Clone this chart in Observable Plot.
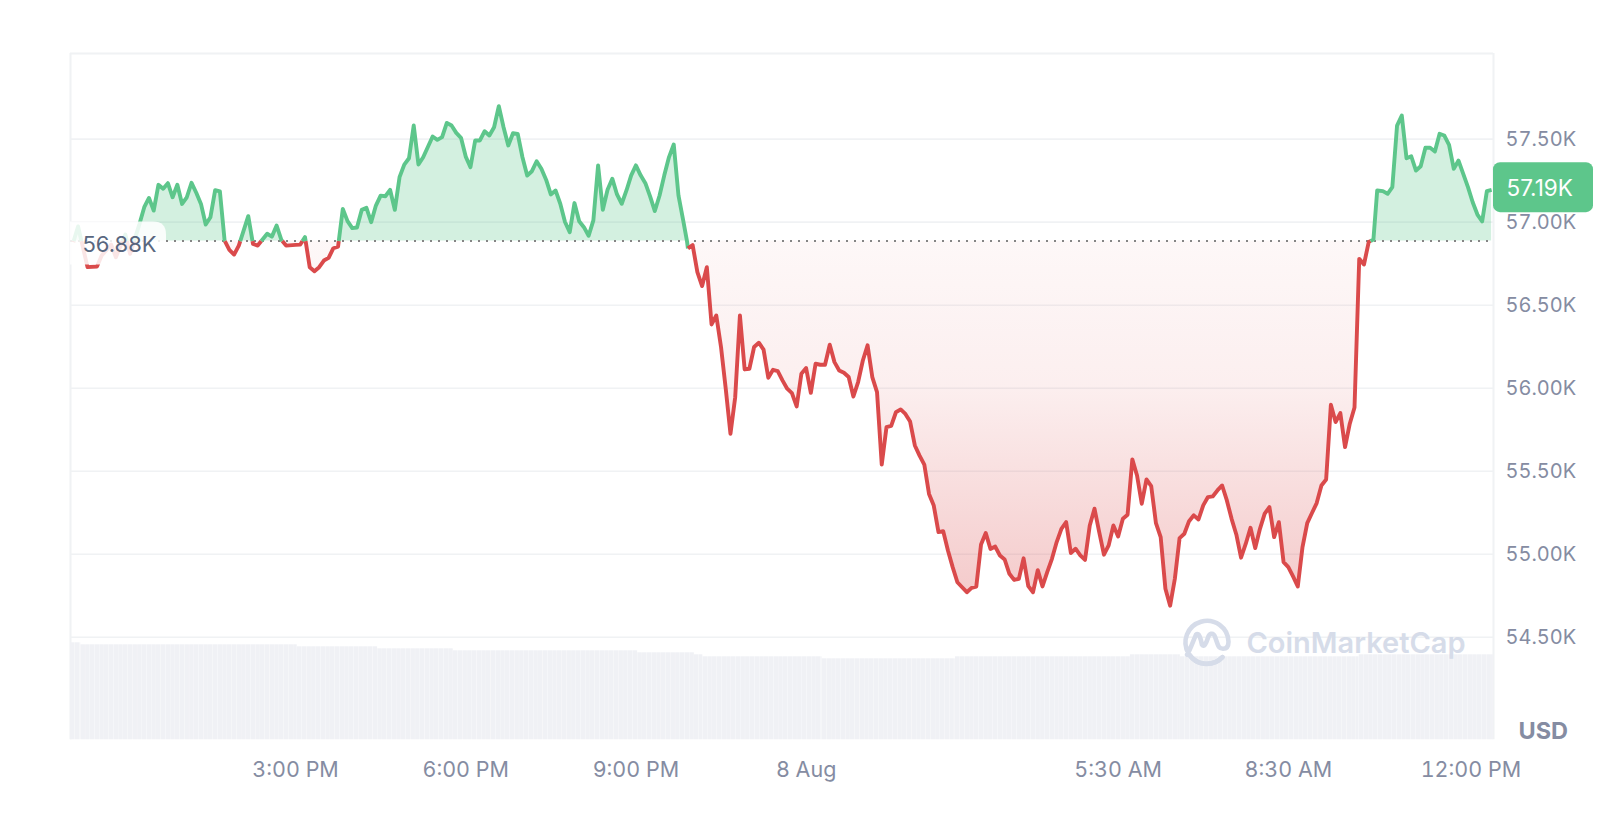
<!DOCTYPE html>
<html>
<head>
<meta charset="utf-8">
<script src="https://cdn.jsdelivr.net/npm/d3@7"></script>
<script src="https://cdn.jsdelivr.net/npm/@observablehq/plot@0.6"></script>
<style>html,body{margin:0;padding:0;background:#fff}svg{display:block}</style>
</head>
<body>
<div id="chart"></div>
<script>
// minutes since 11:00 AM, 7 Aug, on the 5-minute grid, read at each vertex of the line
const minutes = [5,10,20,30,35,45,50,60,65,75,80,85,90,95,100,105,110,115,120,125,130,135,140,145,150,155,160,165,170,175,180,190,195,200,210,215,220,225,230,240,245,250,255,260,265,270,275,280,285,290,295,300,305,310,315,320,325,330,335,340,345,350,355,360,365,370,375,385,390,395,400,405,410,415,420,425,430,435,440,445,450,455,460,465,470,475,480,485,490,495,500,505,510,515,520,525,530,535,540,545,550,555,560,565,570,575,580,585,590,595,600,605,610,615,620,625,630,635,640,645,650,654,655,660,665,670,675,680,685,690,695,700,705,710,715,720,725,730,735,740,745,750,755,760,765,770,775,780,785,790,795,800,805,810,815,820,825,830,835,840,845,850,855,860,865,870,875,880,885,890,895,900,905,910,915,920,925,930,935,940,945,950,955,960,965,970,975,980,985,990,995,1000,1005,1010,1015,1020,1025,1030,1035,1040,1045,1050,1055,1060,1065,1070,1075,1080,1085,1090,1095,1100,1105,1110,1115,1120,1125,1130,1135,1140,1145,1150,1155,1160,1165,1170,1175,1180,1185,1190,1195,1200,1205,1210,1215,1220,1225,1230,1235,1240,1245,1250,1255,1260,1265,1270,1275,1280,1285,1290,1295,1300,1305,1310,1315,1320,1325,1330,1335,1340,1345,1350,1355,1360,1365,1370,1375,1380,1384,1390,1395,1400,1405,1410,1415,1420,1425,1430,1435,1440,1445,1450,1455,1460,1465,1470,1475,1480,1485,1490,1495,1500,1505];
const prices = [56880,56974,56729,56733,56799,56865,56789,56926,56809,56990,57090,57146,57070,57225,57201,57235,57150,57225,57110,57150,57237,57177,57110,56986,57030,57193,57185,56889,56833,56805,56859,57036,56869,56859,56930,56913,56980,56893,56859,56863,56865,56910,56729,56705,56729,56769,56785,56843,56853,57080,57006,56964,56968,57074,57086,57000,57100,57160,57156,57195,57074,57271,57347,57385,57582,57347,57391,57516,57496,57512,57598,57582,57538,57508,57395,57331,57492,57492,57548,57522,57572,57699,57572,57462,57536,57532,57391,57281,57307,57367,57322,57256,57167,57191,57111,57001,56940,57115,57005,56970,56918,57011,57342,57075,57195,57262,57167,57111,57191,57282,57342,57282,57235,57155,57067,57161,57282,57392,57468,57161,57011,56886,56842,56862,56699,56615,56729,56384,56438,56248,55997,55725,55946,56438,56113,56117,56248,56274,56232,56063,56111,56103,56047,55997,55970,55890,56087,56121,55972,56147,56141,56141,56262,56157,56107,56093,56067,55950,56037,56167,56258,56067,55976,55540,55765,55773,55855,55872,55845,55799,55655,55594,55540,55363,55293,55133,55139,55022,54922,54831,54801,54771,54797,54805,55058,55127,55032,55046,54992,54968,54882,54845,54851,54975,54808,54771,54904,54806,54892,54972,55073,55153,55193,55007,55033,54993,54966,55173,55274,55133,54997,55053,55173,55107,55213,55238,55571,55474,55304,55450,55410,55187,55103,54792,54690,54852,55097,55123,55199,55234,55209,55294,55344,55348,55384,55414,55324,55213,55119,54979,55063,55159,55037,55153,55244,55284,55103,55193,54952,54922,54866,54806,55043,55187,55248,55308,55414,55450,55900,55796,55850,55645,55786,55884,56779,56745,56880,56895,57191,57187,57171,57211,57582,57642,57385,57397,57311,57337,57448,57448,57426,57532,57522,57466,57321,57371,57291,57211,57120,57046,57004,57187,57195];

// relative volume: level held from each start minute to the next
const volumeStarts = [2,13,242,327,407,602,662,671,797,938,1123,1176,1322,1365];
const volumeLevels = [97,95,93,91,89,87,85,83,81,83,85,83,83,85];

const yTicks = [54500,55000,55500,56000,56500,57000,57500];
const yTickLabels = ["54.50K","55.00K","55.50K","56.00K","56.50K","57.00K","57.50K"];
const xTickMinutes = [240,420,600,780,1110,1290];
const xTickLabels = ["3:00 PM","6:00 PM","9:00 PM","8 Aug","5:30 AM","8:30 AM"];
const xLastTick = [1500];
const xLastLabel = ["12:00 PM"];

const basePrice = 56886;
const latestPrice = 57190;
const xDomain = [2, 1507];
const yDomain = [53882, 58016];
const usdPerPixel = 6.024;

const GREEN = "#5DC68B", RED = "#DA4A4B", GRID = "#F0F2F4", AXIS = "#858CA2";
const FONT = "Inter, 'Liberation Sans', sans-serif";

// rows split exactly where the line crosses the reference price
const rows = [];
let run = 0;
minutes.forEach((m, i) => {
  if (i > 0) {
    const a = prices[i - 1], b = prices[i];
    if ((a - basePrice) * (b - basePrice) < 0) {
      const cross = minutes[i - 1] + (m - minutes[i - 1]) * (basePrice - a) / (b - a);
      rows.push({m: cross, p: basePrice, run, up: a > basePrice});
      run++;
      rows.push({m: cross, p: basePrice, run, up: b > basePrice});
    }
  }
  rows.push({m, p: prices[i], run, up: prices[i] >= basePrice});
});

const bars = [];
for (let s = 0; s < volumeStarts.length; s++) {
  const end = s + 1 < volumeStarts.length ? volumeStarts[s + 1] : xDomain[1];
  for (let t = volumeStarts[s]; t < end; t += 5) {
    bars.push({t0: t, t1: Math.min(t + 5, end), v: volumeLevels[s]});
  }
}

const svgNode = (name, attrs, parent) => {
  const el = document.createElementNS("http://www.w3.org/2000/svg", name);
  for (const k in attrs) el.setAttribute(k, attrs[k]);
  if (parent) parent.appendChild(el);
  return el;
};

const gradients = () => {
  const defs = svgNode("defs", {});
  const red = svgNode("linearGradient", {id: "redFade", x1: 0, x2: 0, y1: 0, y2: 1}, defs);
  svgNode("stop", {offset: "0%", "stop-color": RED, "stop-opacity": 0.04}, red);
  svgNode("stop", {offset: "40%", "stop-color": RED, "stop-opacity": 0.09}, red);
  svgNode("stop", {offset: "100%", "stop-color": RED, "stop-opacity": 0.3}, red);
  return defs;
};

const labelBox = (index, {x, y}) => svgNode("path", {
  d: (() => {
    const l = x(xDomain[0]), r = l + 96, t = y(basePrice) - 19, b = y(basePrice) + 24, c = 13;
    return `M${l},${t}H${r - c}Q${r},${t} ${r},${t + c}V${b}H${l}Z`;
  })(),
  fill: "#fff", "fill-opacity": 0.86
});

const pill = (index, {x, y}) => svgNode("rect", {
  x: x(xDomain[1]), y: y(latestPrice) - 28, width: 100, height: 50, rx: 7, fill: GREEN
});

const logo = (index, {x, y}) => {
  const g = svgNode("g", {
    transform: `translate(${x(xDomain[1]) - 286},${y(54500) + 5})`,
    fill: "none", stroke: "#D6DCE9", "stroke-width": 4.6, "stroke-linecap": "round", "stroke-linejoin": "round"
  });
  svgNode("path", {d: "M15.5,15.5A21.5,21.5 0 1 1 21.5,0C21.5,5 19,7 16,7C11,7 11,3 8,-5C6,-10 2,-8 1,-4C-1,2 -3,6 -5,3C-6,-2 -8,-10 -11,-7C-13,-3 -17,9 -20,13"}, g);
  svgNode("path", {d: "M15.5,15.5A21.5,21.5 0 0 1 -17,14"}, g);
  return g;
};

const chart = Plot.plot({
  width: 1623,
  height: 817,
  marginLeft: 70,
  marginRight: 130,
  marginTop: 53,
  marginBottom: 77.7,
  style: {background: "#fff", fontFamily: FONT, overflow: "visible"},
  x: {domain: xDomain, axis: null},
  y: {domain: yDomain, axis: null},
  marks: [
    gradients,
    Plot.ruleY(yTicks, {stroke: GRID, strokeWidth: 1.6}),
    Plot.ruleY([yDomain[1]], {stroke: GRID, strokeWidth: 2}),
    Plot.ruleX(xDomain, {stroke: GRID, strokeWidth: 2, y1: yDomain[0], y2: yDomain[1]}),
    Plot.rect(bars, {
      x1: "t0", x2: "t1",
      y1: yDomain[0],
      y2: d => yDomain[0] + d.v * usdPerPixel,
      fill: "#F0F1F5", insetRight: 0.2
    }),
    Plot.areaY(rows, {
      x: "m", y1: basePrice, y2: d => Math.max(d.p, basePrice),
      fill: GREEN, fillOpacity: 0.27
    }),
    Plot.areaY(rows, {
      x: "m", y1: basePrice, y2: d => Math.min(d.p, basePrice),
      fill: "url(#redFade)"
    }),
    Plot.ruleY([basePrice], {stroke: "#858585", strokeWidth: 2, strokeDasharray: "2,6"}),
    Plot.line(rows, {
      x: "m", y: "p", z: "run",
      stroke: d => d.up ? GREEN : RED,
      strokeWidth: 3.9, strokeLinejoin: "round", strokeLinecap: "butt", curve: "linear"
    }),
    labelBox,
    Plot.text(["56.88K"], {
      x: xDomain[0], y: basePrice, dx: 12, dy: 4, textAnchor: "start",
      fontSize: 22, fill: "#58667E"
    }),
    logo,
    Plot.text(["CoinMarketCap"], {
      x: xDomain[1], y: 54500, dx: -28, dy: 7, textAnchor: "end",
      fontSize: 29, fontWeight: 600, fill: "#D6DCE9"
    }),
    Plot.axisY(yTicks, {
      anchor: "right", tickSize: 0, tickPadding: 12, fontSize: 20, fill: AXIS,
      tickFormat: d => yTickLabels[yTicks.indexOf(d)], label: null
    }),
    Plot.axisX(xTickMinutes, {
      anchor: "bottom", tickSize: 0, tickPadding: 22, fontSize: 21.5, fill: AXIS,
      tickFormat: d => xTickLabels[xTickMinutes.indexOf(d)], label: null
    }),
    Plot.axisX(xLastTick, {
      anchor: "bottom", tickSize: 0, tickPadding: 22, fontSize: 21.5, fill: AXIS, dx: -16,
      tickFormat: () => xLastLabel[0], label: null
    }),
    pill,
    Plot.text(["57.19K"], {
      x: xDomain[1], y: latestPrice, dx: 13, dy: -2, textAnchor: "start",
      fontSize: 22.5, fill: "#fff"
    }),
    Plot.text(["USD"], {
      x: xDomain[1], y: yDomain[0], dx: 25, dy: -8, textAnchor: "start",
      fontSize: 23.5, fontWeight: 700, fill: AXIS
    })
  ]
});
document.getElementById("chart").appendChild(chart);
</script>
</body>
</html>
